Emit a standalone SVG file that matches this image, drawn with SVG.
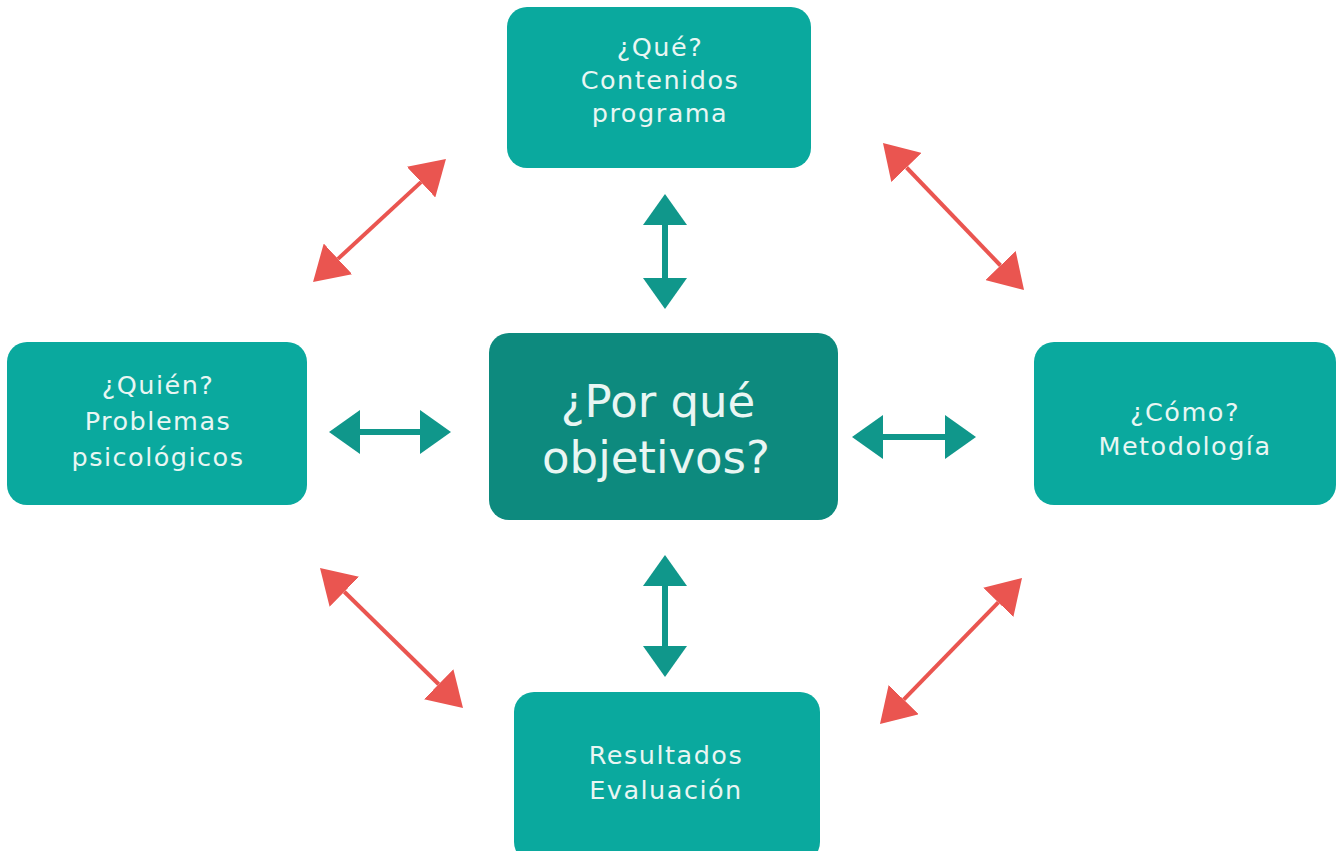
<svg xmlns="http://www.w3.org/2000/svg" width="1336" height="851" viewBox="0 0 1336 851">
<style>
.box{fill:#0aa99e}
.core{fill:#0d8a7e}
.t{font-family:"DejaVu Sans","Liberation Sans",sans-serif;fill:#e9f6f3;text-anchor:middle;font-size:25.5px;letter-spacing:1.5px}
.tc{font-family:"DejaVu Sans","Liberation Sans",sans-serif;fill:#e9f6f3;text-anchor:middle;font-size:45px}
.teal{stroke:#10978b;stroke-width:6;fill:none}
.red{stroke:#ea5550;stroke-width:4;fill:none}
</style>
<defs>
<marker id="ht" markerUnits="userSpaceOnUse" markerWidth="31" markerHeight="44" refX="0" refY="22" orient="auto-start-reverse" viewBox="0 0 31 44">
<path d="M0,0 L31,22 L0,44 z" fill="#10978b"/>
</marker>
<marker id="hr" markerUnits="userSpaceOnUse" markerWidth="34" markerHeight="42" refX="0" refY="21" orient="auto-start-reverse" viewBox="0 0 34 42">
<path d="M0,0 L34,21 L0,42 z" fill="#ea5550"/>
</marker>
</defs>
<rect width="1336" height="851" fill="#ffffff"/>
<g id="connectors">
<line class="teal" x1="665" y1="225" x2="665" y2="278" marker-start="url(#ht)" marker-end="url(#ht)"/>
<line class="teal" x1="665" y1="586" x2="665" y2="646" marker-start="url(#ht)" marker-end="url(#ht)"/>
<line class="teal" x1="360" y1="432" x2="420" y2="432" marker-start="url(#ht)" marker-end="url(#ht)"/>
<line class="teal" x1="883" y1="437" x2="945" y2="437" marker-start="url(#ht)" marker-end="url(#ht)"/>
<line class="red" x1="338" y1="258.9" x2="421" y2="182.1" marker-start="url(#hr)" marker-end="url(#hr)"/>
<line class="red" x1="906.5" y1="167.5" x2="1000.5" y2="265.5" marker-start="url(#hr)" marker-end="url(#hr)"/>
<line class="red" x1="344.3" y1="591.8" x2="438.7" y2="684.2" marker-start="url(#hr)" marker-end="url(#hr)"/>
<line class="red" x1="998.3" y1="602.4" x2="903.7" y2="699.6" marker-start="url(#hr)" marker-end="url(#hr)"/>
</g>
<g id="node-top">
<rect class="box" x="507" y="7" width="304" height="161" rx="20"/>
<text class="t" x="660" y="56">¿Qué?</text>
<text class="t" x="660" y="89">Contenidos</text>
<text class="t" x="660" y="122">programa</text>
</g>
<g id="node-center">
<rect class="core" x="489" y="333" width="349" height="187" rx="20"/>
<text class="tc" x="658" y="417">¿Por qué</text>
<text class="tc" x="656" y="473">objetivos?</text>
</g>
<g id="node-left">
<rect class="box" x="7" y="342" width="300" height="163" rx="20"/>
<text class="t" x="158" y="394">¿Quién?</text>
<text class="t" x="158" y="430">Problemas</text>
<text class="t" x="158" y="466">psicológicos</text>
</g>
<g id="node-right">
<rect class="box" x="1034" y="342" width="302" height="163" rx="20"/>
<text class="t" x="1185" y="421">¿Cómo?</text>
<text class="t" x="1185" y="455">Metodología</text>
</g>
<g id="node-bottom">
<rect class="box" x="514" y="692" width="306" height="170" rx="20"/>
<text class="t" x="666" y="764">Resultados</text>
<text class="t" x="666" y="799">Evaluación</text>
</g>
</svg>
